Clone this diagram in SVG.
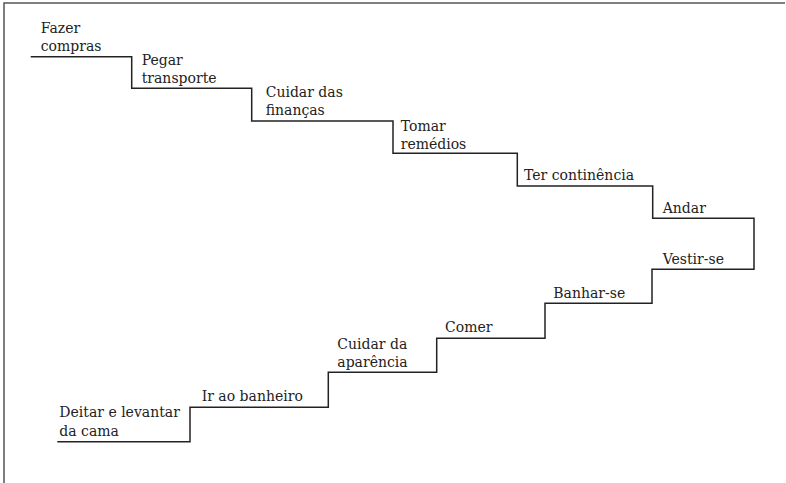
<svg xmlns="http://www.w3.org/2000/svg" width="786" height="483" viewBox="0 0 786 483">
<style>
text{font-family:'DejaVu Serif','Liberation Serif',serif;font-size:14px;fill:#222}
.stair{fill:none;stroke:#222;stroke-width:1.5}
.frame{fill:none;stroke:#555;stroke-width:1.5}
</style>
<rect width="786" height="483" fill="#fff"/>
<path class="frame" d="M4,483 V3 H785"/>
<g id="connectors">
<path class="stair" d="M30.7,56.7 H131.7 V88.3 H251.7 V121 H393 V153.3 H517.3 V186 H652.7 V218.3 H754 V269.3 H652 V303.3 H545 V338.3 H436.7 V372.3 H328.3 V407.3 H190 V441.7 H57.3"/>
</g>
<g id="fazer-compras"><text transform="translate(40.7,33.3)"><tspan x="0" y="0">Fazer</tspan><tspan x="0" y="17.4">compras</tspan></text></g>
<g id="pegar-transporte"><text transform="translate(141.7,65)"><tspan x="0" y="0">Pegar</tspan><tspan x="0" y="18.3">transporte</tspan></text></g>
<g id="cuidar-financas"><text transform="translate(265.7,96.7)"><tspan x="0" y="0">Cuidar das</tspan><tspan x="0" y="18.3">finanças</tspan></text></g>
<g id="tomar-remedios"><text transform="translate(400.7,130.7)"><tspan x="0" y="0">Tomar</tspan><tspan x="0" y="18.6">remédios</tspan></text></g>
<g id="ter-continencia"><text transform="translate(524,180)">Ter continência</text></g>
<g id="andar"><text transform="translate(662.7,213.3)">Andar</text></g>
<g id="vestir-se"><text transform="translate(662.7,264)">Vestir-se</text></g>
<g id="banhar-se"><text transform="translate(553.3,297.7)">Banhar-se</text></g>
<g id="comer"><text transform="translate(445,332.3)">Comer</text></g>
<g id="cuidar-aparencia"><text transform="translate(337.3,349)"><tspan x="0" y="0">Cuidar da</tspan><tspan x="0" y="18.3">aparência</tspan></text></g>
<g id="ir-ao-banheiro"><text transform="translate(201.7,400.7)">Ir ao banheiro</text></g>
<g id="deitar-levantar"><text transform="translate(59.3,416.7)"><tspan x="0" y="0">Deitar e levantar</tspan><tspan x="0" y="19">da cama</tspan></text></g>
</svg>
